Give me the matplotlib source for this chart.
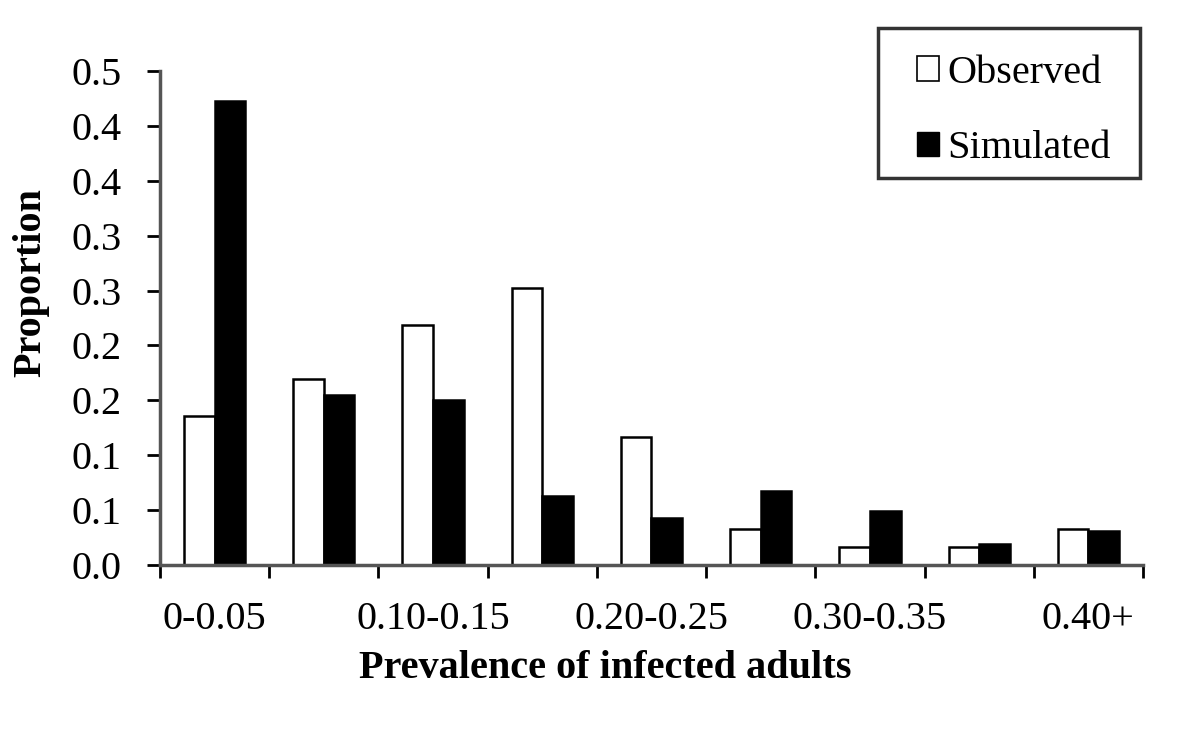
import numpy as np
import matplotlib
matplotlib.use("Agg")
import matplotlib.pyplot as plt
from matplotlib.patches import Patch, Rectangle

# Values
categories = ["0-0.05", "0.05-0.10", "0.10-0.15", "0.15-0.20", "0.20-0.25",
              "0.25-0.30", "0.30-0.35", "0.35-0.40", "0.40+"]
observed = [0.136, 0.169, 0.219, 0.252, 0.117, 0.033, 0.016, 0.016, 0.033]
simulated = [0.423, 0.155, 0.150, 0.063, 0.043, 0.067, 0.049, 0.019, 0.031]
shown_labels = ["0-0.05", "", "0.10-0.15", "", "0.20-0.25", "", "0.30-0.35", "", "0.40+"]
y_ticks = [0.0, 0.05, 0.10, 0.15, 0.20, 0.25, 0.30, 0.35, 0.40, 0.45]
y_tick_labels = ["0.0", "0.1", "0.1", "0.2", "0.2", "0.3", "0.3", "0.4", "0.4", "0.5"]

plt.rcParams["font.family"] = ["Liberation Serif", "DejaVu Serif"]
fs = 29

fig = plt.figure(figsize=(12, 7.35), dpi=100)
ax = fig.add_axes([0.1333, 0.2313, 0.8192, 0.6721])

x = np.arange(len(categories))
w = 0.28
ax.bar(x - w / 2, observed, w, color="white", edgecolor="black", linewidth=1.8)
ax.bar(x + w / 2, simulated, w, color="black", edgecolor="black", linewidth=1.8)

ax.set_xlim(-0.5, len(categories) - 0.5)
ax.set_ylim(0, 0.45)

# tick marks on category boundaries, labels on category centres
ax.set_xticks(np.arange(len(categories) + 1) - 0.5)
ax.set_xticklabels([])
ax.set_xticks(x, minor=True)
ax.set_xticklabels(shown_labels, minor=True, fontsize=fs)
ax.tick_params(axis="x", which="major", length=9, width=2, direction="out")
ax.tick_params(axis="x", which="minor", length=0, pad=26)

ax.set_yticks(y_ticks)
ax.set_yticklabels(y_tick_labels, fontsize=fs)
ax.tick_params(axis="y", length=9.5, width=2, direction="out", pad=18)

for side in ["top", "right"]:
    ax.spines[side].set_visible(False)
for side in ["left", "bottom"]:
    ax.spines[side].set_color("#555555")
    ax.spines[side].set_linewidth(2.5)

ax.set_xlabel("Prevalence of infected adults", fontsize=fs, fontweight="bold")
ax.xaxis.set_label_coords(0.453, -0.172)
ax.set_ylabel("Proportion", fontsize=fs, fontweight="bold")
ax.yaxis.set_label_coords(-0.113, 0.571)

# legend box drawn separately so its size matches the original
fig.patches.append(Rectangle((0.7317, 0.7578), 0.2183, 0.204, transform=fig.transFigure,
                             facecolor="white", edgecolor="#333333", linewidth=2.5, zorder=3))
handles = [Patch(facecolor="white", edgecolor="black", linewidth=1.2, label="Observed"),
           Patch(facecolor="black", edgecolor="black", label="Simulated")]
leg = fig.legend(handles=handles, loc="center", bbox_to_anchor=(0.845, 0.849),
                 fontsize=fs, handlelength=0.55, handleheight=0.55, handletextpad=0.2,
                 labelspacing=0.95, borderpad=0.2, frameon=False)
leg.set_zorder(4)

fig.savefig("out.png", dpi=100, facecolor="white")
